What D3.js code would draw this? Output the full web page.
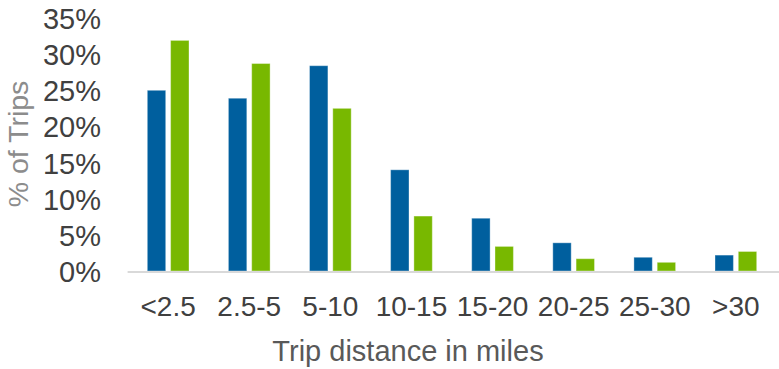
<!DOCTYPE html>
<html>
<head>
<meta charset="utf-8">
<script src="https://cdn.jsdelivr.net/npm/d3@7/dist/d3.min.js"></script>
<style>
  html, body { margin: 0; padding: 0; background: #fff; }
  svg { display: block; font-family: "Liberation Sans", Arial, sans-serif; }
</style>
</head>
<body>
<svg id="chart" width="779" height="369"></svg>
<script>
// Share of trips by distance band, two series
const categories = ["<2.5", "2.5-5", "5-10", "10-15", "15-20", "20-25", "25-30", ">30"];
const seriesNames = ["Series A", "Series B"];
const seriesA = [25.0, 23.9, 28.4, 14.0, 7.3, 3.9, 1.9, 2.2];
const seriesB = [31.9, 28.7, 22.5, 7.6, 3.4, 1.7, 1.2, 2.7];
const yTicks = [0, 5, 10, 15, 20, 25, 30, 35];
const colors = ["#005f9e", "#78b800"];

const svg = d3.select("#chart");
const W = 779;

const x0 = d3.scaleBand()
  .domain(categories)
  .range([127.6, 776.4])
  .paddingInner(0.486)
  .paddingOuter(0.243);

const x1 = d3.scaleBand()
  .domain(d3.range(seriesNames.length))
  .range([0, x0.bandwidth()])
  .paddingInner(0.21)
  .paddingOuter(0);

const y = d3.scaleLinear().domain([0, 35]).range([271, 18]);

const rows = categories.map((c, i) => ({ cat: c, vals: [seriesA[i], seriesB[i]] }));

// bars
const groups = svg.append("g").selectAll("g")
  .data(rows).join("g")
  .attr("transform", d => `translate(${x0(d.cat)},0)`);

groups.selectAll("rect")
  .data(d => d.vals.map((v, k) => ({ v, k })))
  .join("rect")
  .attr("x", d => x1(d.k))
  .attr("width", x1.bandwidth())
  .attr("y", d => y(d.v))
  .attr("height", d => y(0) - y(d.v))
  .attr("fill", d => colors[d.k])
  .attr("stroke", "rgba(255,255,255,0.35)")
  .attr("stroke-width", 1);

// baseline
svg.append("line")
  .attr("x1", x0.range()[0]).attr("x2", W)
  .attr("y1", y(0) + 1).attr("y2", y(0) + 1)
  .attr("stroke", "#d9d9d9").attr("stroke-width", 2);

// y axis tick labels
const yAxis = d3.axisLeft(y).tickValues(yTicks).tickFormat(d => d + "%").tickSize(0).tickPadding(0);
const gy = svg.append("g").attr("transform", "translate(101,0)").call(yAxis);
gy.select(".domain").remove();
gy.selectAll("text")
  .attr("font-size", 29)
  .attr("font-family", "Liberation Sans, Arial, sans-serif")
  .attr("fill", "#404040")
  .attr("dy", "0.36em");

// x axis tick labels
const xAxis = d3.axisBottom(x0).tickSize(0).tickPadding(0);
const gx = svg.append("g").attr("transform", "translate(0,316)").call(xAxis);
gx.select(".domain").remove();
gx.selectAll("text")
  .attr("font-size", 28)
  .attr("font-family", "Liberation Sans, Arial, sans-serif")
  .attr("fill", "#404040")
  .attr("dy", 0);

// axis titles
svg.append("text")
  .attr("x", 408).attr("y", 361)
  .attr("text-anchor", "middle")
  .attr("font-size", 29)
  .attr("fill", "#595959")
  .text("Trip distance in miles");

svg.append("text")
  .attr("transform", "translate(28,144) rotate(-90)")
  .attr("text-anchor", "middle")
  .attr("font-size", 28.5)
  .attr("fill", "#8c8c8c")
  .text("% of Trips");
</script>
</body>
</html>
